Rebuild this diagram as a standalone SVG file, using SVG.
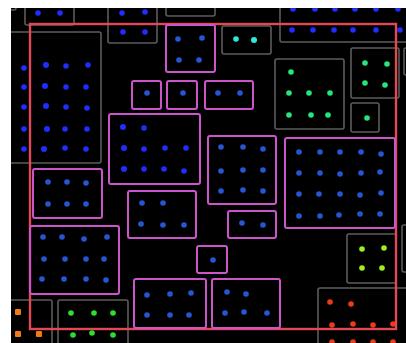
<svg xmlns="http://www.w3.org/2000/svg" width="406" height="343" viewBox="0 0 406 343">
<style>
.g{fill:none;stroke:#5c5c5c;stroke-width:1.6}
.m{fill:none;stroke:#cc55cc;stroke-width:2}
.r{fill:none;stroke:#e04a55;stroke-width:2.4}
.b1 circle{fill:#1f2dff}
.b2 circle{fill:#2456d6}
.cy circle{fill:#2ee8e0}
.gr circle{fill:#25e57d}
.lg circle{fill:#2ee02e}
.yg circle{fill:#a0ee22}
.or circle{fill:#f07a18}
.rd circle{fill:#ee3a16}
</style>
<defs>
<clipPath id="area"><rect x="11" y="8" width="395" height="335"/></clipPath>
</defs>
<rect x="0" y="0" width="406" height="343" fill="#ffffff"/>
<rect x="11" y="8" width="395" height="335" fill="#000000"/>
<g clip-path="url(#area)">
<g id="gray-boxes">
<g id="g-topleft"><rect class="g" x="-5" y="-5" width="21" height="15" rx="2"/></g>
<g id="g-top1" class="b1"><rect class="g" x="25" y="-2" width="49" height="27" rx="2"/><circle cx="38" cy="13" r="2.8"/><circle cx="60" cy="13" r="2.8"/></g>
<g id="g-top2" class="b1"><rect class="g" x="108" y="-2" width="49" height="45" rx="2"/><circle cx="122" cy="13" r="2.8"/><circle cx="145" cy="12" r="2.8"/><circle cx="123" cy="32" r="2.8"/><circle cx="145" cy="32" r="2.8"/></g>
<g id="g-top3"><rect class="g" x="166" y="-2" width="49" height="18" rx="2"/></g>
<g id="g-top4" class="b1"><rect class="g" x="280" y="-2" width="140" height="44" rx="2"/>
<circle cx="293" cy="9" r="2.8"/><circle cx="315" cy="9" r="2.8"/><circle cx="335" cy="9" r="2.8"/><circle cx="355" cy="9" r="2.8"/><circle cx="376" cy="9" r="2.8"/><circle cx="398" cy="9" r="2.8"/>
<circle cx="292" cy="30" r="2.8"/><circle cx="313" cy="30" r="2.8"/><circle cx="334" cy="30" r="2.8"/><circle cx="353" cy="30" r="2.8"/><circle cx="376" cy="30" r="2.8"/><circle cx="400" cy="30" r="2.8"/></g>
<g id="g-cyan" class="cy"><rect class="g" x="222" y="26" width="49" height="28" rx="2"/><circle cx="236" cy="39" r="2.8"/><circle cx="254" cy="40" r="3"/></g>
<g id="g-green1" class="gr"><rect class="g" x="275" y="59" width="69" height="70" rx="2"/>
<circle cx="291" cy="72" r="2.8"/><circle cx="289" cy="93" r="2.8"/><circle cx="309" cy="93" r="2.8"/><circle cx="330" cy="93" r="2.8"/><circle cx="289" cy="115" r="2.8"/><circle cx="311" cy="115" r="2.8"/><circle cx="328" cy="115" r="2.8"/></g>
<g id="g-green2" class="gr"><rect class="g" x="351" y="48" width="48" height="50" rx="2"/><circle cx="365" cy="63" r="2.8"/><circle cx="387" cy="64" r="2.8"/><circle cx="365" cy="83" r="2.8"/><circle cx="385" cy="85" r="2.8"/></g>
<g id="g-green3" class="gr"><rect class="g" x="351" y="103" width="28" height="29" rx="2"/><circle cx="367" cy="118" r="2.8"/></g>
<g id="g-right1"><rect class="g" x="404" y="48" width="20" height="27" rx="2"/></g>
<g id="g-right2"><rect class="g" x="402" y="225" width="20" height="47" rx="2"/></g>
<g id="g-left" class="b1"><rect class="g" x="5" y="32" width="96" height="131" rx="2"/>
<circle cx="24" cy="68" r="2.8"/><circle cx="46" cy="65" r="3"/><circle cx="66" cy="66" r="2.8"/><circle cx="88" cy="65" r="2.8"/>
<circle cx="24" cy="87" r="2.8"/><circle cx="45" cy="86" r="3"/><circle cx="66" cy="87" r="2.8"/><circle cx="86" cy="87" r="2.8"/>
<circle cx="24" cy="107" r="2.8"/><circle cx="46" cy="106" r="3"/><circle cx="66" cy="107" r="2.8"/><circle cx="87" cy="108" r="2.8"/>
<circle cx="24" cy="129" r="2.8"/><circle cx="47" cy="129" r="3"/><circle cx="65" cy="129" r="2.8"/><circle cx="87" cy="129" r="2.8"/>
<circle cx="24" cy="149" r="2.8"/><circle cx="44" cy="149" r="3"/><circle cx="65" cy="148" r="2.8"/><circle cx="86" cy="149" r="2.8"/></g>
<g id="g-orange" class="or"><rect class="g" x="-5" y="300" width="57" height="60" rx="2"/><rect x="15" y="309" width="6" height="6" rx="1" fill="#f07a18"/><rect x="15" y="331" width="6" height="6" rx="1" fill="#f07a18"/><rect x="36" y="331" width="6" height="6" rx="1" fill="#f07a18"/></g>
<g id="g-lgreen" class="lg"><rect class="g" x="58" y="300" width="70" height="60" rx="2"/><circle cx="71" cy="313" r="2.8"/><circle cx="94" cy="313" r="2.8"/><circle cx="113" cy="313" r="2.8"/><circle cx="73" cy="335" r="2.8"/><circle cx="92" cy="333" r="2.8"/><circle cx="113" cy="335" r="2.8"/></g>
<g id="g-yellow" class="yg"><rect class="g" x="347" y="234" width="49" height="49" rx="2"/><circle cx="362" cy="249" r="2.8"/><circle cx="384" cy="248" r="2.8"/><circle cx="362" cy="268" r="2.8"/><circle cx="382" cy="268" r="2.8"/></g>
<g id="g-red" class="rd"><rect class="g" x="318" y="288" width="100" height="70" rx="2"/>
<circle cx="330" cy="302" r="2.8"/><circle cx="351" cy="304" r="2.8"/>
<circle cx="332" cy="325" r="2.8"/><circle cx="353" cy="324" r="2.8"/><circle cx="373" cy="325" r="2.8"/><circle cx="393" cy="324" r="2.8"/>
<circle cx="332" cy="342" r="2.8"/><circle cx="353" cy="342" r="2.8"/><circle cx="373" cy="342" r="2.8"/><circle cx="393" cy="342" r="2.8"/></g>
</g>
<g id="frame"><rect class="r" x="30" y="24" width="366" height="305"/></g>
<g id="magenta-boxes">
<g id="m1" class="b2"><rect class="m" x="166" y="25" width="49" height="47" rx="2"/><circle cx="178" cy="39" r="2.8"/><circle cx="202" cy="38" r="2.8"/><circle cx="179" cy="60" r="2.8"/><circle cx="199" cy="60" r="2.8"/></g>
<g id="m2" class="b2"><rect class="m" x="132" y="81" width="29" height="28" rx="2"/><circle cx="147" cy="93" r="2.8"/></g>
<g id="m3" class="b2"><rect class="m" x="167" y="81" width="30" height="28" rx="2"/><circle cx="183" cy="93" r="2.8"/></g>
<g id="m4" class="b2"><rect class="m" x="205" y="81" width="48" height="28" rx="2"/><circle cx="218" cy="93" r="2.8"/><circle cx="240" cy="93" r="2.8"/></g>
<g id="m5" class="b1"><rect class="m" x="109" y="114" width="91" height="70" rx="2"/>
<circle cx="123" cy="127" r="3"/><circle cx="144" cy="128" r="2.8"/>
<circle cx="124" cy="148" r="3"/><circle cx="144" cy="149" r="2.8"/><circle cx="165" cy="148" r="2.8"/><circle cx="186" cy="148" r="2.8"/>
<circle cx="124" cy="169" r="3"/><circle cx="144" cy="169" r="2.8"/><circle cx="164" cy="169" r="2.8"/><circle cx="184" cy="171" r="2.8"/></g>
<g id="m6" class="b2"><rect class="m" x="208" y="136" width="68" height="68" rx="2"/>
<circle cx="221" cy="147" r="2.8"/><circle cx="243" cy="147" r="2.8"/><circle cx="263" cy="149" r="2.8"/>
<circle cx="221" cy="171" r="2.8"/><circle cx="243" cy="170" r="2.8"/><circle cx="263" cy="170" r="2.8"/>
<circle cx="221" cy="191" r="2.8"/><circle cx="243" cy="190" r="2.8"/><circle cx="263" cy="191" r="2.8"/></g>
<g id="m7" class="b2"><rect class="m" x="128" y="191" width="68" height="47" rx="2"/><circle cx="142" cy="203" r="2.8"/><circle cx="163" cy="203" r="2.8"/><circle cx="141" cy="224" r="2.8"/><circle cx="163" cy="225" r="2.8"/><circle cx="184" cy="225" r="2.8"/></g>
<g id="m8" class="b2"><rect class="m" x="228" y="211" width="48" height="27" rx="2"/><circle cx="242" cy="223" r="2.8"/><circle cx="263" cy="225" r="2.8"/></g>
<g id="m9" class="b2"><rect class="m" x="285" y="138" width="110" height="90" rx="2"/>
<circle cx="299" cy="152" r="2.8"/><circle cx="320" cy="152" r="2.8"/><circle cx="340" cy="152" r="2.8"/><circle cx="361" cy="152" r="2.8"/><circle cx="381" cy="154" r="2.8"/>
<circle cx="299" cy="173" r="2.8"/><circle cx="320" cy="173" r="2.8"/><circle cx="340" cy="174" r="2.8"/><circle cx="361" cy="173" r="2.8"/><circle cx="380" cy="172" r="2.8"/>
<circle cx="299" cy="194" r="2.8"/><circle cx="319" cy="194" r="2.8"/><circle cx="340" cy="194" r="2.8"/><circle cx="360" cy="195" r="2.8"/><circle cx="381" cy="193" r="2.8"/>
<circle cx="299" cy="216" r="2.8"/><circle cx="320" cy="216" r="2.8"/><circle cx="339" cy="215" r="2.8"/><circle cx="360" cy="214" r="2.8"/><circle cx="380" cy="214" r="2.8"/></g>
<g id="m10" class="b2"><rect class="m" x="33" y="169" width="69" height="49" rx="2"/><circle cx="48" cy="182" r="2.8"/><circle cx="67" cy="182" r="2.8"/><circle cx="86" cy="183" r="2.8"/><circle cx="48" cy="204" r="2.8"/><circle cx="67" cy="204" r="2.8"/><circle cx="86" cy="204" r="2.8"/></g>
<g id="m11" class="b2"><rect class="m" x="30" y="226" width="89" height="68" rx="2"/>
<circle cx="43" cy="237" r="2.8"/><circle cx="62" cy="237" r="2.8"/><circle cx="84" cy="239" r="2.8"/><circle cx="107" cy="237" r="2.8"/>
<circle cx="44" cy="259" r="2.8"/><circle cx="65" cy="259" r="2.8"/><circle cx="86" cy="259" r="2.8"/><circle cx="104" cy="259" r="2.8"/>
<circle cx="42" cy="279" r="2.8"/><circle cx="64" cy="279" r="2.8"/><circle cx="86" cy="279" r="2.8"/><circle cx="106" cy="280" r="2.8"/></g>
<g id="m12" class="b2"><rect class="m" x="197" y="246" width="30" height="27" rx="2"/><circle cx="213" cy="260" r="2.8"/></g>
<g id="m13" class="b2"><rect class="m" x="134" y="279" width="72" height="49" rx="2"/><circle cx="147" cy="295" r="2.8"/><circle cx="170" cy="294" r="2.8"/><circle cx="191" cy="293" r="2.8"/><circle cx="147" cy="315" r="2.8"/><circle cx="170" cy="315" r="2.8"/><circle cx="189" cy="315" r="2.8"/></g>
<g id="m14" class="b2"><rect class="m" x="212" y="279" width="68" height="49" rx="2"/><circle cx="227" cy="292" r="2.8"/><circle cx="246" cy="294" r="2.8"/><circle cx="225" cy="313" r="2.8"/><circle cx="244" cy="312" r="2.8"/><circle cx="267" cy="313" r="2.8"/></g>
</g>
</g>
</svg>
